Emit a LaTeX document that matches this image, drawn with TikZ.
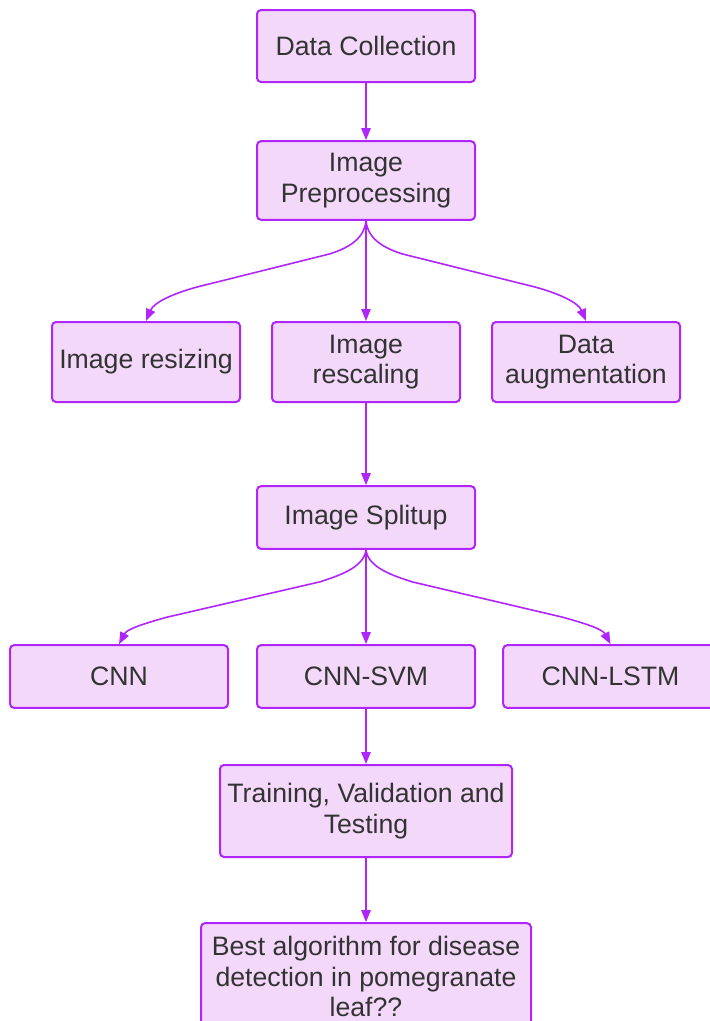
\documentclass[tikz,border=0pt]{standalone}
\usepackage{fontspec}
\setmainfont{Liberation Sans}
\usetikzlibrary{arrows.meta,calc}

\definecolor{boxline}{RGB}{176,38,250}
\definecolor{boxfill}{RGB}{244,216,250}
\definecolor{textgray}{RGB}{51,51,51}

\tikzset{
    stepbox/.style={draw=boxline, fill=boxfill, line width=1.5pt, rounded corners=3pt,
        align=center, inner sep=0pt, text=textgray, font=\fontsize{20}{23}\selectfont},
    flow/.style={draw=boxline, line width=1.2pt, -{Triangle[length=9pt,width=7pt]}}
}

\begin{document}
\begin{tikzpicture}[x=0.75pt, y=-0.75pt]
            \useasboundingbox (0,0) rectangle (710,1021);
            \clip (0,0) rectangle (710,1021);

            % main column
            \node[stepbox, minimum width=163.5pt, minimum height=54pt] (collect) at (366,46) {Data Collection};
            \node[stepbox, minimum width=163.5pt, minimum height=59pt] (prep) at (366,180.5) {Image\\Preprocessing};

            % preprocessing steps
            \node[stepbox, minimum width=141pt, minimum height=60pt] (resize) at (146,362) {Image resizing};
            \node[stepbox, minimum width=141pt, minimum height=60pt] (rescale) at (366,362) {Image\\rescaling};
            \node[stepbox, minimum width=141pt, minimum height=60pt] (augment) at (586,362) {Data\\augmentation};

            \node[stepbox, minimum width=163.5pt, minimum height=47pt] (split) at (366,517.5) {Image Splitup};

            % models
            \node[stepbox, minimum width=163.5pt, minimum height=47pt] (cnn) at (119,676.5) {CNN};
            \node[stepbox, minimum width=163.5pt, minimum height=47pt] (svm) at (366,676.5) {CNN-SVM};
            \node[stepbox, minimum width=161pt, minimum height=47pt] (lstm) at (610.5,676.5) {CNN-LSTM};

            \node[stepbox, minimum width=219pt, minimum height=69pt] (train) at (366,811) {Training, Validation and\\Testing};
            \node[stepbox, minimum width=247.5pt, minimum height=80pt] (best) at (366,976.5) {Best algorithm for disease\\detection in pomegranate\\leaf??};

            % straight links
            \draw[flow] (collect) -- (prep);
            \draw[flow] (prep) -- (rescale);
            \draw[flow] (rescale) -- (split);
            \draw[flow] (split) -- (svm);
            \draw[flow] (svm) -- (train);
            \draw[flow] (train) -- (best);

            % fan-out links: bend, run straight, bend into the box
            \draw[flow] (prep.south) .. controls +(-2,20) and +(15,-5) .. ++(-36,33)
                -- ($(resize.north)+(51,-34)$) .. controls +(-22,6) and +(8,-19) .. (resize.north);
            \draw[flow] (prep.south) .. controls +(2,20) and +(-15,-5) .. ++(36,33)
                -- ($(augment.north)+(-51,-34)$) .. controls +(22,6) and +(-8,-19) .. (augment.north);
            \draw[flow] (split.south) .. controls +(-2,18) and +(18,-6) .. ++(-46,32)
                -- ($(cnn.north)+(48,-27)$) .. controls +(-25,7) and +(8,-15) .. (cnn.north);
            \draw[flow] (split.south) .. controls +(2,18) and +(-18,-6) .. ++(46,32)
                -- ($(lstm.north)+(-48,-27)$) .. controls +(25,7) and +(-8,-15) .. (lstm.north);
        \end{tikzpicture}
\end{document}
